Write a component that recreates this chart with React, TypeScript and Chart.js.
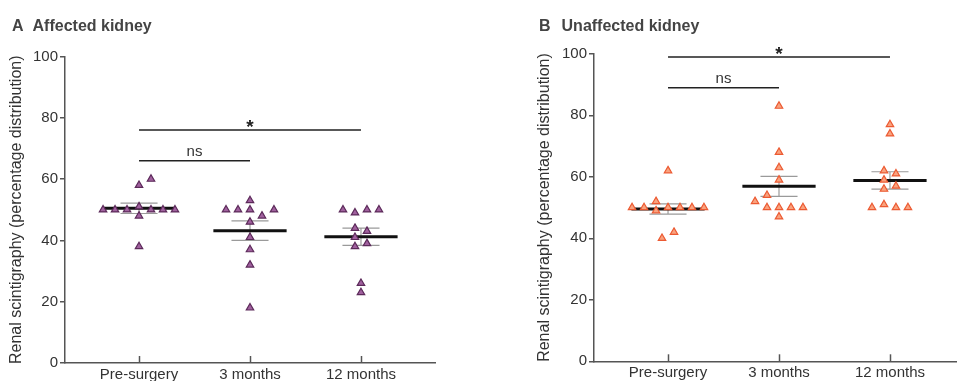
import React, { useEffect, useRef } from 'react';
import { Chart, registerables } from 'chart.js';

Chart.register(...registerables);

const FONT = "'Liberation Sans', Arial, Helvetica, sans-serif";

// ---- data ----
const categories = ['Pre-surgery', '3 months', '12 months'];
const yTickValues = [0, 20, 40, 60, 80, 100];
const yAxisTitle = 'Renal scintigraphy (percentage distribution)';

// Panel A: affected kidney
const affectedPre = [50, 50, 50, 51, 50, 50, 50, 48, 58, 60, 38];
const affectedPreSlots = [-3, -2, -1, 0, 1, 2, 3, 0, 0, 1, 0];
const affected3m = [50, 50, 50, 53, 48, 50, 46, 41, 37, 32, 18];
const affected3mSlots = [-2, -1, 0, 0, 1, 2, 0, 0, 0, 0, 0];
const affected12m = [50, 49, 50, 50, 44, 43, 41, 39, 38, 26, 23];
const affected12mSlots = [-1.5, -0.5, 0.5, 1.5, -0.5, 0.5, -0.5, 0.5, -0.5, 0, 0];
const affectedSigFrom = [0, 0];
const affectedSigTo = [1, 2];
const affectedSigY = [66, 76];
const affectedSigLabel = ['ns', '*'];

// Panel B: unaffected kidney
const unaffectedPre = [50, 50, 52, 50, 50, 50, 50, 49, 62, 42, 40];
const unaffectedPreSlots = [-3, -2, -1, 0, 1, 2, 3, -1, 0, 0.5, -0.5];
const unaffected3m = [83, 68, 63, 59, 54, 52, 50, 50, 50, 50, 47];
const unaffected3mSlots = [0, 0, 0, 0, -1, -2, -1, 0, 1, 2, 0];
const unaffected12m = [77, 74, 62, 61, 59, 57, 56, 50, 51, 50, 50];
const unaffected12mSlots = [0, 0, -0.5, 0.5, -0.5, 0.5, -0.5, -1.5, -0.5, 0.5, 1.5];
const unaffectedSigFrom = [0, 0];
const unaffectedSigTo = [1, 2];
const unaffectedSigY = [89, 99];
const unaffectedSigLabel = ['ns', '*'];

// ---- helpers ----
const SLOT = 0.108;
const MEAN_HALF = 0.33;
const CAP_HALF = 0.167;

function mean(a: number[]) {
  return a.reduce((s, v) => s + v, 0) / a.length;
}
function sem(a: number[]) {
  const m = mean(a);
  const v = a.reduce((s, x) => s + (x - m) * (x - m), 0) / (a.length - 1);
  return Math.sqrt(v) / Math.sqrt(a.length);
}

interface PanelSpec {
  groups: number[][];
  slots: number[][];
  sigFrom: number[];
  sigTo: number[];
  sigY: number[];
  sigLabel: string[];
  fill: string;
  edge: string;
  width: number;
  height: number;
  padLeft: number;
  padRight: number;
  padTop: number;
  yAxisWidth: number;
  xAxisHeight: number;
}

function buildConfig(p: PanelSpec): any {
  const pts: any[] = [];
  p.groups.forEach((vals, g) =>
    vals.forEach((v, i) => pts.push({ x: g + p.slots[g][i] * SLOT, y: v }))
  );
  const meanLine: any[] = [];
  const semLine: any[] = [];
  p.groups.forEach((vals, g) => {
    const m = mean(vals);
    const s = sem(vals);
    meanLine.push({ x: g - MEAN_HALF, y: m }, { x: g + MEAN_HALF, y: m }, { x: g + 0.5, y: null });
    semLine.push(
      { x: g - CAP_HALF, y: m + s }, { x: g + CAP_HALF, y: m + s }, { x: g, y: null },
      { x: g, y: m + s }, { x: g, y: m - s }, { x: g, y: null },
      { x: g - CAP_HALF, y: m - s }, { x: g + CAP_HALF, y: m - s }, { x: g, y: null }
    );
  });
  const sigLine: any[] = [];
  p.sigY.forEach((y, i) => {
    sigLine.push({ x: p.sigFrom[i], y }, { x: p.sigTo[i], y }, { x: p.sigTo[i], y: null });
  });

  const annotations = {
    id: 'panelExtras',
    afterDatasetsDraw(chart: any) {
      const ctx = chart.ctx;
      const xs = chart.scales.x;
      const ys = chart.scales.y;
      const bottom = chart.chartArea.bottom;
      ctx.save();
      // inward x ticks
      ctx.strokeStyle = '#555';
      ctx.lineWidth = 1.5;
      categories.forEach((_, i) => {
        const px = Math.round(xs.getPixelForValue(i)) + 0.5;
        ctx.beginPath();
        ctx.moveTo(px, bottom);
        ctx.lineTo(px, bottom - 7);
        ctx.stroke();
      });
      // significance labels
      ctx.fillStyle = '#222';
      ctx.textAlign = 'center';
      ctx.textBaseline = 'alphabetic';
      p.sigY.forEach((y, i) => {
        const xm = xs.getPixelForValue((p.sigFrom[i] + p.sigTo[i]) / 2);
        const yp = ys.getPixelForValue(y);
        if (p.sigLabel[i] === '*') {
          ctx.font = `bold 19px ${FONT}`;
          ctx.fillText(p.sigLabel[i], xm, yp + 3);
        } else {
          ctx.font = `15px ${FONT}`;
          ctx.fillStyle = '#333';
          ctx.fillText(p.sigLabel[i], xm, yp - 5);
          ctx.fillStyle = '#222';
        }
      });
      ctx.restore();
    },
  };

  return {
    type: 'scatter',
    data: {
      datasets: [
        {
          data: pts,
          pointStyle: 'triangle',
          pointRadius: 4.3,
          pointBorderWidth: 1.2,
          backgroundColor: p.fill,
          borderColor: p.edge,
          showLine: false,
        },
        {
          data: meanLine,
          showLine: true,
          borderColor: '#111',
          borderWidth: 3,
          pointRadius: 0,
          spanGaps: false,
        },
        {
          data: semLine,
          showLine: true,
          borderColor: '#9a9a9a',
          borderWidth: 1.2,
          pointRadius: 0,
          spanGaps: false,
        },
        {
          data: sigLine,
          showLine: true,
          borderColor: '#222',
          borderWidth: 1.5,
          pointRadius: 0,
          spanGaps: false,
          clip: false,
        },
      ],
    },
    options: {
      responsive: false,
      animation: false,
      devicePixelRatio: 1,
      layout: { padding: { left: p.padLeft, right: p.padRight, top: p.padTop, bottom: 0 } },
      plugins: { legend: { display: false }, tooltip: { enabled: false } },
      scales: {
        x: {
          type: 'linear',
          min: -0.667,
          max: 2.667,
          afterFit: (s: any) => { s.height = p.xAxisHeight; },
          afterBuildTicks: (s: any) => { s.ticks = categories.map((_, i) => ({ value: i })); },
          ticks: {
            autoSkip: false,
            maxRotation: 0,
            padding: 3,
            color: '#333',
            font: { family: FONT, size: 15 },
            callback: (v: any) => categories[v] ?? '',
          },
          grid: { display: false, drawTicks: false },
          border: { display: true, color: '#555', width: 1.5 },
        },
        y: {
          type: 'linear',
          min: 0,
          max: 100,
          afterFit: (s: any) => { s.width = p.yAxisWidth; },
          afterBuildTicks: (s: any) => { s.ticks = yTickValues.map((v) => ({ value: v })); },
          ticks: {
            padding: 2,
            color: '#333',
            font: { family: FONT, size: 15 },
          },
          grid: {
            display: true,
            drawOnChartArea: false,
            drawTicks: true,
            tickLength: 5,
            color: '#555',
            lineWidth: 1.5,
          },
          border: { display: true, color: '#555', width: 1.5 },
          title: {
            display: true,
            text: yAxisTitle,
            color: '#333',
            font: { family: FONT, size: 16 },
            padding: { top: 7, bottom: 0 },
          },
        },
      },
    },
    plugins: [annotations],
  };
}

function Panel({ spec, left }: { spec: PanelSpec; left: number }) {
  const ref = useRef<HTMLCanvasElement | null>(null);
  useEffect(() => {
    if (!ref.current) return;
    const chart = new Chart(ref.current, buildConfig(spec));
    return () => chart.destroy();
  }, []);
  return (
    <canvas
      ref={ref}
      width={spec.width}
      height={spec.height}
      style={{ position: 'absolute', left, top: 0, width: spec.width, height: spec.height }}
    />
  );
}

const panelA: PanelSpec = {
  groups: [affectedPre, affected3m, affected12m],
  slots: [affectedPreSlots, affected3mSlots, affected12mSlots],
  sigFrom: affectedSigFrom,
  sigTo: affectedSigTo,
  sigY: affectedSigY,
  sigLabel: affectedSigLabel,
  fill: '#a0609e',
  edge: '#5c2a5a',
  width: 480,
  height: 400,
  padLeft: 0,
  padRight: 45,
  padTop: 56.5,
  yAxisWidth: 65,
  xAxisHeight: 37,
};

const panelB: PanelSpec = {
  groups: [unaffectedPre, unaffected3m, unaffected12m],
  slots: [unaffectedPreSlots, unaffected3mSlots, unaffected12mSlots],
  sigFrom: unaffectedSigFrom,
  sigTo: unaffectedSigTo,
  sigY: unaffectedSigY,
  sigLabel: unaffectedSigLabel,
  fill: '#f9a27e',
  edge: '#ec5a32',
  width: 560,
  height: 400,
  padLeft: 48,
  padRight: 76,
  padTop: 53.8,
  yAxisWidth: 66,
  xAxisHeight: 38.7,
};

const titleStyle: React.CSSProperties = {
  position: 'absolute',
  top: 16,
  font: `bold 16px ${FONT}`,
  lineHeight: '19px',
  color: '#444',
  whiteSpace: 'nowrap',
};

export default function App() {
  return (
    <div
      style={{
        position: 'fixed',
        left: 0,
        top: 0,
        width: 957,
        height: 381,
        overflow: 'hidden',
        background: '#fff',
      }}
    >
      <Panel spec={panelA} left={0} />
      <Panel spec={panelB} left={480} />
      <div style={{ ...titleStyle, left: 12 }}>
        <span>A</span>
        <span style={{ marginLeft: 9 }}>Affected kidney</span>
      </div>
      <div style={{ ...titleStyle, left: 539 }}>
        <span>B</span>
        <span style={{ marginLeft: 11 }}>Unaffected kidney</span>
      </div>
    </div>
  );
}
